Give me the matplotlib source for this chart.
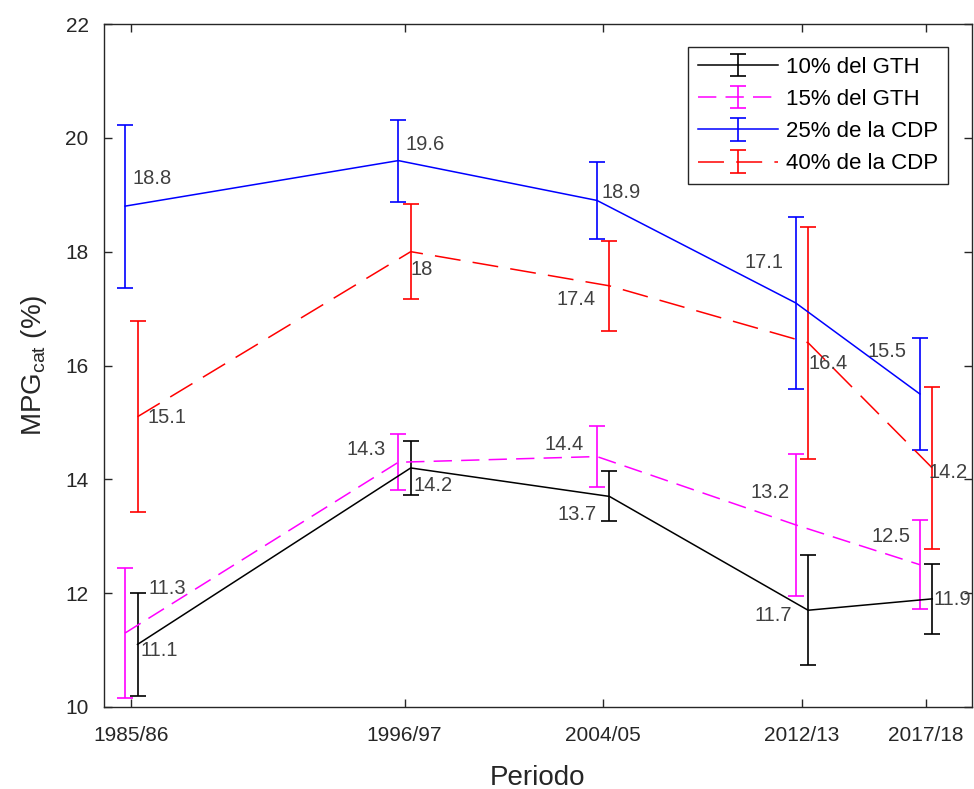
import matplotlib
matplotlib.use("Agg")
import matplotlib.pyplot as plt
import numpy as np

plt.rcParams['font.family'] = ['Liberation Sans', 'DejaVu Sans']
plt.rcParams['mathtext.default'] = 'regular'

# ---- data ----
periods = ["1985/86", "1996/97", "2004/05", "2012/13", "2017/18"]
years = [1985, 1996, 2004, 2012, 2017]

series_names = ["10% del GTH", "15% del GTH", "25% de la CDP", "40% de la CDP"]
gth10 = [11.1, 14.2, 13.7, 11.7, 11.9]
gth10_err = [0.90, 0.48, 0.44, 0.97, 0.61]
gth15 = [11.3, 14.3, 14.4, 13.2, 12.5]
gth15_err = [1.15, 0.49, 0.53, 1.25, 0.78]
cdp25 = [18.8, 19.6, 18.9, 17.1, 15.5]
cdp25_err = [1.43, 0.72, 0.67, 1.51, 0.98]
cdp40 = [15.1, 18.0, 17.4, 16.4, 14.2]
cdp40_err = [1.68, 0.84, 0.79, 2.04, 1.43]

# ---- styling ----
colors = ['black', '#FF00FF', '#0000FF', '#FF0000']
styles = ['-', (0, (12, 6)), '-', (0, (17, 8))]
xshift = [0.25, -0.25, -0.25, 0.25]
# label offsets in pixels (dx right, dy down) and alignment
label_offsets = [
    [(3, 6, 'left'), (3, 18, 'left'), (-13, 18, 'right'), (-16, 5, 'right'), (1, 1, 'left')],
    [(23, -45, 'left'), (-13, -13, 'right'), (-13, -12, 'right'), (-6, -32, 'right'), (-9, -28, 'right')],
    [(7, -28, 'left'), (7, -16, 'left'), (5, -8, 'left'), (-12, -40, 'right'), (-13, -42, 'right')],
    [(10, 1, 'left'), (0, 18, 'left'), (-14, 14, 'right'), (0, 21, 'left'), (-4, 5, 'left')],
]

fig = plt.figure(figsize=(9.74, 7.89), dpi=100)
ax = fig.add_axes([104/974, 1-707/789, (972-104)/974, (707-24)/789])

values = [gth10, gth15, cdp25, cdp40]
errs = [gth10_err, gth15_err, cdp25_err, cdp40_err]
handles = []
for i in range(4):
    xs = np.array(years, dtype=float) + xshift[i]
    h = ax.errorbar(xs, values[i], yerr=errs[i], color=colors[i], linestyle=styles[i],
                    linewidth=1.1, elinewidth=1.2, capsize=6, capthick=1.2,
                    label=series_names[i])
    handles.append(h)
    for j, (x, y) in enumerate(zip(xs, values[i])):
        dx, dy, ha = label_offsets[i][j]
        ax.annotate(f"{y:g}", (x, y), xytext=(dx*0.72, -dy*0.72), textcoords='offset points',
                    ha=ha, va='center', fontsize=14.5, color='#404040')

ax.set_xlim(1983.9, 2018.85)
ax.set_ylim(10, 22)
ax.set_xticks(years)
ax.set_xticklabels(periods)
ax.set_yticks(np.arange(10, 23, 2))
ax.tick_params(direction='in', top=True, right=True, labelsize=15, length=6,
               colors='#262626', width=1)
ax.tick_params(axis='x', pad=14)
ax.tick_params(axis='y', pad=11)
for s in ax.spines.values():
    s.set_color('#262626')
    s.set_linewidth(1)
ax.set_xlabel("Periodo", fontsize=20, color='#262626', labelpad=14)
ax.set_ylabel("MPG$_{cat}$ (%)", fontsize=20, color='#262626', labelpad=12)

leg = ax.legend(handles=handles, loc='upper right',
                bbox_to_anchor=((948-104)/868, (707-47)/683),
                borderaxespad=0, fontsize=16, handlelength=3.6, labelspacing=0.5,
                handletextpad=0.35, borderpad=0.45, fancybox=False, framealpha=1)
leg.get_frame().set_edgecolor('#262626')
leg.get_frame().set_linewidth(1)

fig.savefig("out.png", dpi=100)
